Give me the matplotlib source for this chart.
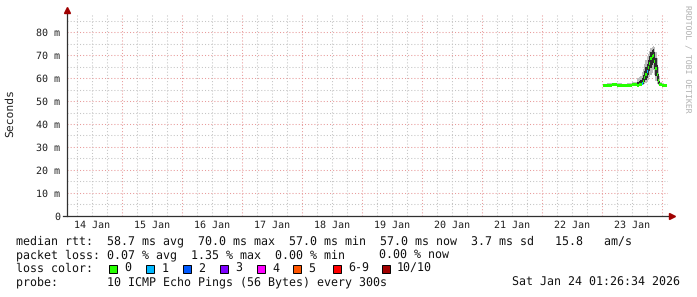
import matplotlib
matplotlib.use("Agg")
import matplotlib.pyplot as plt
import numpy as np

# ---- data (hours after 23 Jan 00:00) ----
hours = [0.4, 2, 4, 6, 8, 10, 12, 14, 15, 15.5, 16, 16.5, 17, 17.5, 18, 18.5,
         19, 19.5, 20, 20.5, 21, 21.5, 22, 22.5, 23, 23.5, 24, 25, 25.6]
median_ms = [57.0, 57.0, 57.1, 57.0, 57.0, 57.0, 57.1, 57.0, 57.1, 57.3, 57.8, 58.6,
             60.2, 61.8, 62.9, 64.5, 66.5, 68.4, 69.5, 70.0, 67.4, 64.4, 61.4, 59.0,
             57.4, 57.1, 57.0, 57.0, 57.0]
loss_pings = [0, 0, 0, 0, 0, 0, 0, 0, 0, 0, 1, 0, 0, 0, 1, 0,
              0, 0, 0, 0, 0, 0, 0, 0, 0, 0, 0, 0, 0]
smoke_lo = [56.6, 56.6, 56.7, 56.6, 56.6, 56.6, 56.7, 56.6, 56.7, 56.8, 57.0, 57.1,
            57.3, 57.8, 58.3, 59.2, 60.4, 61.6, 62.4, 63.4, 61.4, 58.6, 57.4, 56.9,
            56.8, 56.7, 56.6, 56.6, 56.6]
smoke_hi = [57.6, 57.7, 57.8, 57.7, 57.6, 57.7, 58.2, 60.0, 60.4, 61.0, 62.6, 64.2,
            66.2, 67.8, 69.2, 70.6, 72.0, 73.3, 73.8, 74.0, 73.4, 71.6, 68.8, 65.0,
            61.0, 58.4, 57.7, 57.6, 57.6]
smoke_in_lo = [56.8, 56.8, 56.8, 56.8, 56.8, 56.8, 56.8, 56.8, 56.9, 57.0, 57.2, 57.6,
               58.5, 59.4, 60.2, 61.4, 63.0, 64.4, 65.6, 66.4, 64.0, 61.0, 58.8, 57.6,
               57.0, 56.9, 56.8, 56.8, 56.8]
smoke_in_hi = [57.3, 57.3, 57.4, 57.3, 57.3, 57.3, 57.6, 58.4, 58.6, 59.0, 60.0, 61.4,
               63.2, 64.8, 66.2, 68.0, 69.8, 71.4, 72.2, 72.6, 71.2, 68.6, 65.6, 62.0,
               58.8, 57.6, 57.3, 57.3, 57.3]
day_labels = ["14 Jan", "15 Jan", "16 Jan", "17 Jan", "18 Jan",
              "19 Jan", "20 Jan", "21 Jan", "22 Jan", "23 Jan"]
y_ticks = [0, 10, 20, 30, 40, 50, 60, 70, 80]
y_tick_labels = ["0", "10 m", "20 m", "30 m", "40 m", "50 m", "60 m", "70 m", "80 m"]
loss_names = ["0", "1", "2", "3", "4", "5", "6-9", "10/10"]
loss_colors = ["#26ff00", "#00b8ff", "#0059ff", "#7e00ff", "#ff00ff",
               "#ff5500", "#ff0000", "#a10000"]

W, H = 697, 297
MONO = "DejaVu Sans Mono"
plt.rcParams["font.family"] = MONO
plt.rcParams["text.hinting"] = "no_hinting"

fig = plt.figure(figsize=(W / 100, H / 100), dpi=100)
fig.patch.set_facecolor("white")

def px(x, y):
    return x / W, 1 - y / H

left, right, top, bottom = 67, 668, 13.3, 215.7
ax = fig.add_axes([left / W, 1 - bottom / H, (right - left) / W, (bottom - top) / H])
ax.set_xlim(0.088, 10.105)
ax.set_ylim(0, 88.3)
for s in ax.spines.values():
    s.set_visible(False)

# grid
dots = (0, (1, 2))
for k in range(0, 41):
    d = k * 0.25
    if d < 0.088 or d > 10.105:
        continue
    if k % 4 == 0:
        ax.axvline(d, color="#e89a9a", lw=0.75, ls=dots, zorder=1)
    else:
        ax.axvline(d, color="#c4c4c4", lw=0.75, ls=dots, zorder=0)
for v in range(5, 90, 5):
    if v % 10 == 0:
        ax.axhline(v, color="#e89a9a", lw=0.75, ls=dots, zorder=1)
    else:
        ax.axhline(v, color="#c4c4c4", lw=0.75, ls=dots, zorder=0)

# data
t = 9 + np.array(hours) / 24
widths = np.diff(np.append(t, t[-1] + 0.4 / 24))
med = np.array(median_ms)
lo, hi = np.array(smoke_lo), np.array(smoke_hi)
ilo, ihi = np.array(smoke_in_lo), np.array(smoke_in_hi)
ax.bar(t, hi - lo, bottom=lo, width=widths, align="edge", color="#bdbdbd", lw=0, zorder=3)
ax.bar(t, ihi - ilo, bottom=ilo, width=widths, align="edge", color="#2e2e2e", lw=0, zorder=4)
band = 1.3
ax.bar(t, band, bottom=med - band / 2, width=widths, align="edge",
       color=[loss_colors[l] for l in loss_pings], lw=0, zorder=5)

# axes lines + arrows
ax.plot([-4 / (right - left), 1.004], [0, 0], transform=ax.transAxes,
        color="#303030", lw=0.9, clip_on=False, zorder=6)
ax.plot([0, 0], [0, 1.012], transform=ax.transAxes, color="#303030", lw=0.9,
        clip_on=False, zorder=6)
ax.plot([1.006], [0], transform=ax.transAxes, marker=">", color="#a00000", ms=4,
        clip_on=False, zorder=7)
ax.plot([0], [1.015], transform=ax.transAxes, marker="^", color="#a00000", ms=4,
        clip_on=False, zorder=7)

ax.set_xticks([i + 0.5 for i in range(len(day_labels))])
ax.set_xticklabels(day_labels)
ax.set_yticks(y_ticks)
ax.set_yticklabels(y_tick_labels)
ax.tick_params(axis="both", length=0, labelsize=7.2, colors="#202020")
ax.tick_params(axis="x", pad=3)
ax.tick_params(axis="y", pad=5)

fig.text(*px(10, 113), "Seconds", rotation=90, ha="center", va="center",
         fontsize=8.2, color="#202020")
fig.text(*px(687, 59), "RRDTOOL / TOBI OETIKER", rotation=270, ha="center",
         va="center", fontsize=5.9, color="#b0b0b0")

# legend text, placed by baseline
fs = 8.4
def line(x, yc, s, **kw):
    fig.text(*px(x, yc + 3.1), s, fontsize=fs, va="baseline", color="#101010", **kw)

line(16, 241.5,
     "median rtt:  58.7 ms avg  70.0 ms max  57.0 ms min  57.0 ms now  3.7 ms sd   15.8   am/s")
line(16, 255.3, "packet loss: 0.07 % avg  1.35 % max  0.00 % min")
line(379, 255.3, "0.00 % now")
line(16, 269, "loss color:")
box_x = [108.7, 146, 183, 220, 257, 293, 333, 381.7]
for bx, name, col in zip(box_x, loss_names, loss_colors):
    fig.patches.append(plt.Rectangle(px(bx, 273.3), 8 / W, 8 / H, transform=fig.transFigure,
                                     facecolor=col, edgecolor="#000000", lw=0.7))
    line(bx + 15.3, 269, name)
line(16, 282.7, "probe:       10 ICMP Echo Pings (56 Bytes) every 300s")
line(680, 282.7, "Sat Jan 24 01:26:34 2026", ha="right")

fig.savefig("out.png", dpi=100, facecolor="white")
